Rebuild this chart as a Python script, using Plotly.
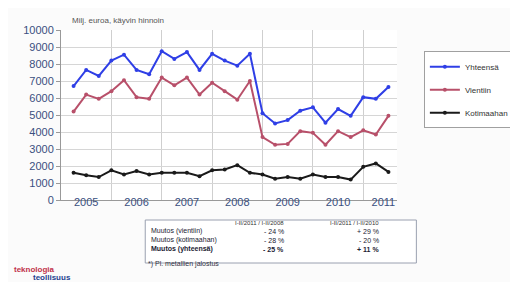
import plotly.graph_objects as go

quarters = [2005 + 0.25 * (i + 1) for i in range(26)]
yhteensa = [6700, 7650, 7300, 8200, 8550, 7650, 7400, 8750, 8300, 8700, 7650, 8600, 8200,
            7900, 8600, 5100, 4500, 4700, 5250, 5450, 4550, 5350, 4950, 6050, 5950, 6650]
vientiin = [5200, 6200, 5950, 6400, 7050, 6050, 5950, 7200, 6750, 7200, 6200, 6900, 6400,
            5900, 7000, 3700, 3250, 3300, 4050, 3950, 3250, 4050, 3700, 4100, 3850, 4950]
kotimaahan = [1600, 1450, 1350, 1750, 1500, 1700, 1500, 1600, 1600, 1600, 1400, 1750, 1800,
              2050, 1600, 1500, 1250, 1350, 1250, 1500, 1350, 1350, 1200, 1950, 2150, 1650]
year_labels = ["2005", "2006", "2007", "2008", "2009", "2010", "2011"]
year_pos = [2005.5, 2006.5, 2007.5, 2008.5, 2009.5, 2010.5, 2011.4]
year_bounds = [2005, 2006, 2007, 2008, 2009, 2010, 2011]
y_ticks = list(range(0, 10001, 1000))
y_ticktext = [str(v) for v in y_ticks]

series = [("Yhteensä", yhteensa, "#2f3fe6"),
          ("Vientiin", vientiin, "#b8506a"),
          ("Kotimaahan", kotimaahan, "#1a1a1a")]

table_rows = ["Muutos (vientiin)", "Muutos (kotimaahan)", "Muutos (yhteensä)"]
table_col1 = ["- 24 %", "- 28 %", "- 25 %"]
table_col2 = ["+ 29 %", "- 20 %", "+ 11 %"]
table_heads = ["I-II/2011 / I-II/2008", "I-II/2011 / I-II/2010"]

fig = go.Figure()
for i, (name, vals, col) in enumerate(series):
    fig.add_trace(go.Scatter(x=quarters, y=vals, name=name, mode="lines+markers",
                             line=dict(color=col, width=2), marker=dict(size=4, color=col),
                             legendgroup=str(i)))

axcol = "#3a4f80"
fig.update_layout(
    width=518, height=282,
    margin=dict(l=53, r=118, t=22, b=90),
    paper_bgcolor="#fbfbfb", plot_bgcolor="white",
    font=dict(family="Liberation Sans, Arial", color=axcol),
    showlegend=True,
    legend=dict(x=1.08, y=0.875, xanchor="left", yanchor="top",
                bordercolor="#a0a0a0", borderwidth=1, bgcolor="white",
                font=dict(size=8, color="#333"), tracegroupgap=4,
                itemwidth=30),
    xaxis=dict(range=[2005, 2011.67], tickvals=year_pos, ticktext=year_labels,
               showgrid=False, tickfont=dict(size=11, color=axcol), ticks="",
               ticklabelstandoff=-8,
               showline=True, linecolor="#999",
               minor=dict(tickvals=year_bounds, showgrid=True, gridcolor="#cfcfcf")),
    yaxis=dict(range=[0, 10000], tickvals=y_ticks, ticktext=y_ticktext, gridcolor="#d6d6d6",
               tickfont=dict(size=11, color=axcol), ticks="outside", ticklen=4,
               tickcolor="#999", showline=True, linecolor="#999", zeroline=False),
)

def px(xp):
    return (xp - 53) / 347.0

def py(yp):
    return (192 - yp) / 170.0

# title
fig.add_annotation(text="Milj. euroa, käyvin hinnoin", x=px(62), y=py(13), xref="paper", yref="paper",
                   xanchor="left", yanchor="middle", showarrow=False, font=dict(size=8, color="#555"))

# table box
fig.add_shape(type="rect", x0=px(140), x1=px(420), y0=py(212), y1=py(255), xref="paper", yref="paper",
              line=dict(color="#9aa0b0", width=1), fillcolor="white", layer="below")
for j, h in enumerate(table_heads):
    fig.add_annotation(text=h, x=px([285, 383][j]), y=py(220), xref="paper", yref="paper",
                       showarrow=False, font=dict(size=6, color="#333"))
for r, lab in enumerate(table_rows):
    yy = py(229 + 9 * r)
    bold = r == 2
    fig.add_annotation(text=("<b>%s</b>" % lab) if bold else lab, x=px(144), y=yy, xref="paper",
                       yref="paper", xanchor="left", showarrow=False,
                       font=dict(size=7, color="#223"))
    fig.add_annotation(text=("<b>%s</b>" % table_col1[r]) if bold else table_col1[r], x=px(285), y=yy,
                       xref="paper", yref="paper", showarrow=False, font=dict(size=7, color="#223"))
    fig.add_annotation(text=("<b>%s</b>" % table_col2[r]) if bold else table_col2[r], x=px(383), y=yy,
                       xref="paper", yref="paper", showarrow=False, font=dict(size=7, color="#223"))
fig.add_annotation(text="*) Pl. metallien jalostus", x=px(141), y=py(262), xref="paper", yref="paper",
                   xanchor="left", showarrow=False, font=dict(size=7, color="#334"))

# logo
fig.add_annotation(text="<b>teknologia</b>", x=px(2), y=py(268), xref="paper", yref="paper",
                   xanchor="left", showarrow=False, font=dict(size=8, color="#c0304a"))
fig.add_annotation(text="<b>teollisuus</b>", x=px(22), y=py(276), xref="paper", yref="paper",
                   xanchor="left", showarrow=False, font=dict(size=8, color="#1f3f8f"))

fig.write_html("out.html")
